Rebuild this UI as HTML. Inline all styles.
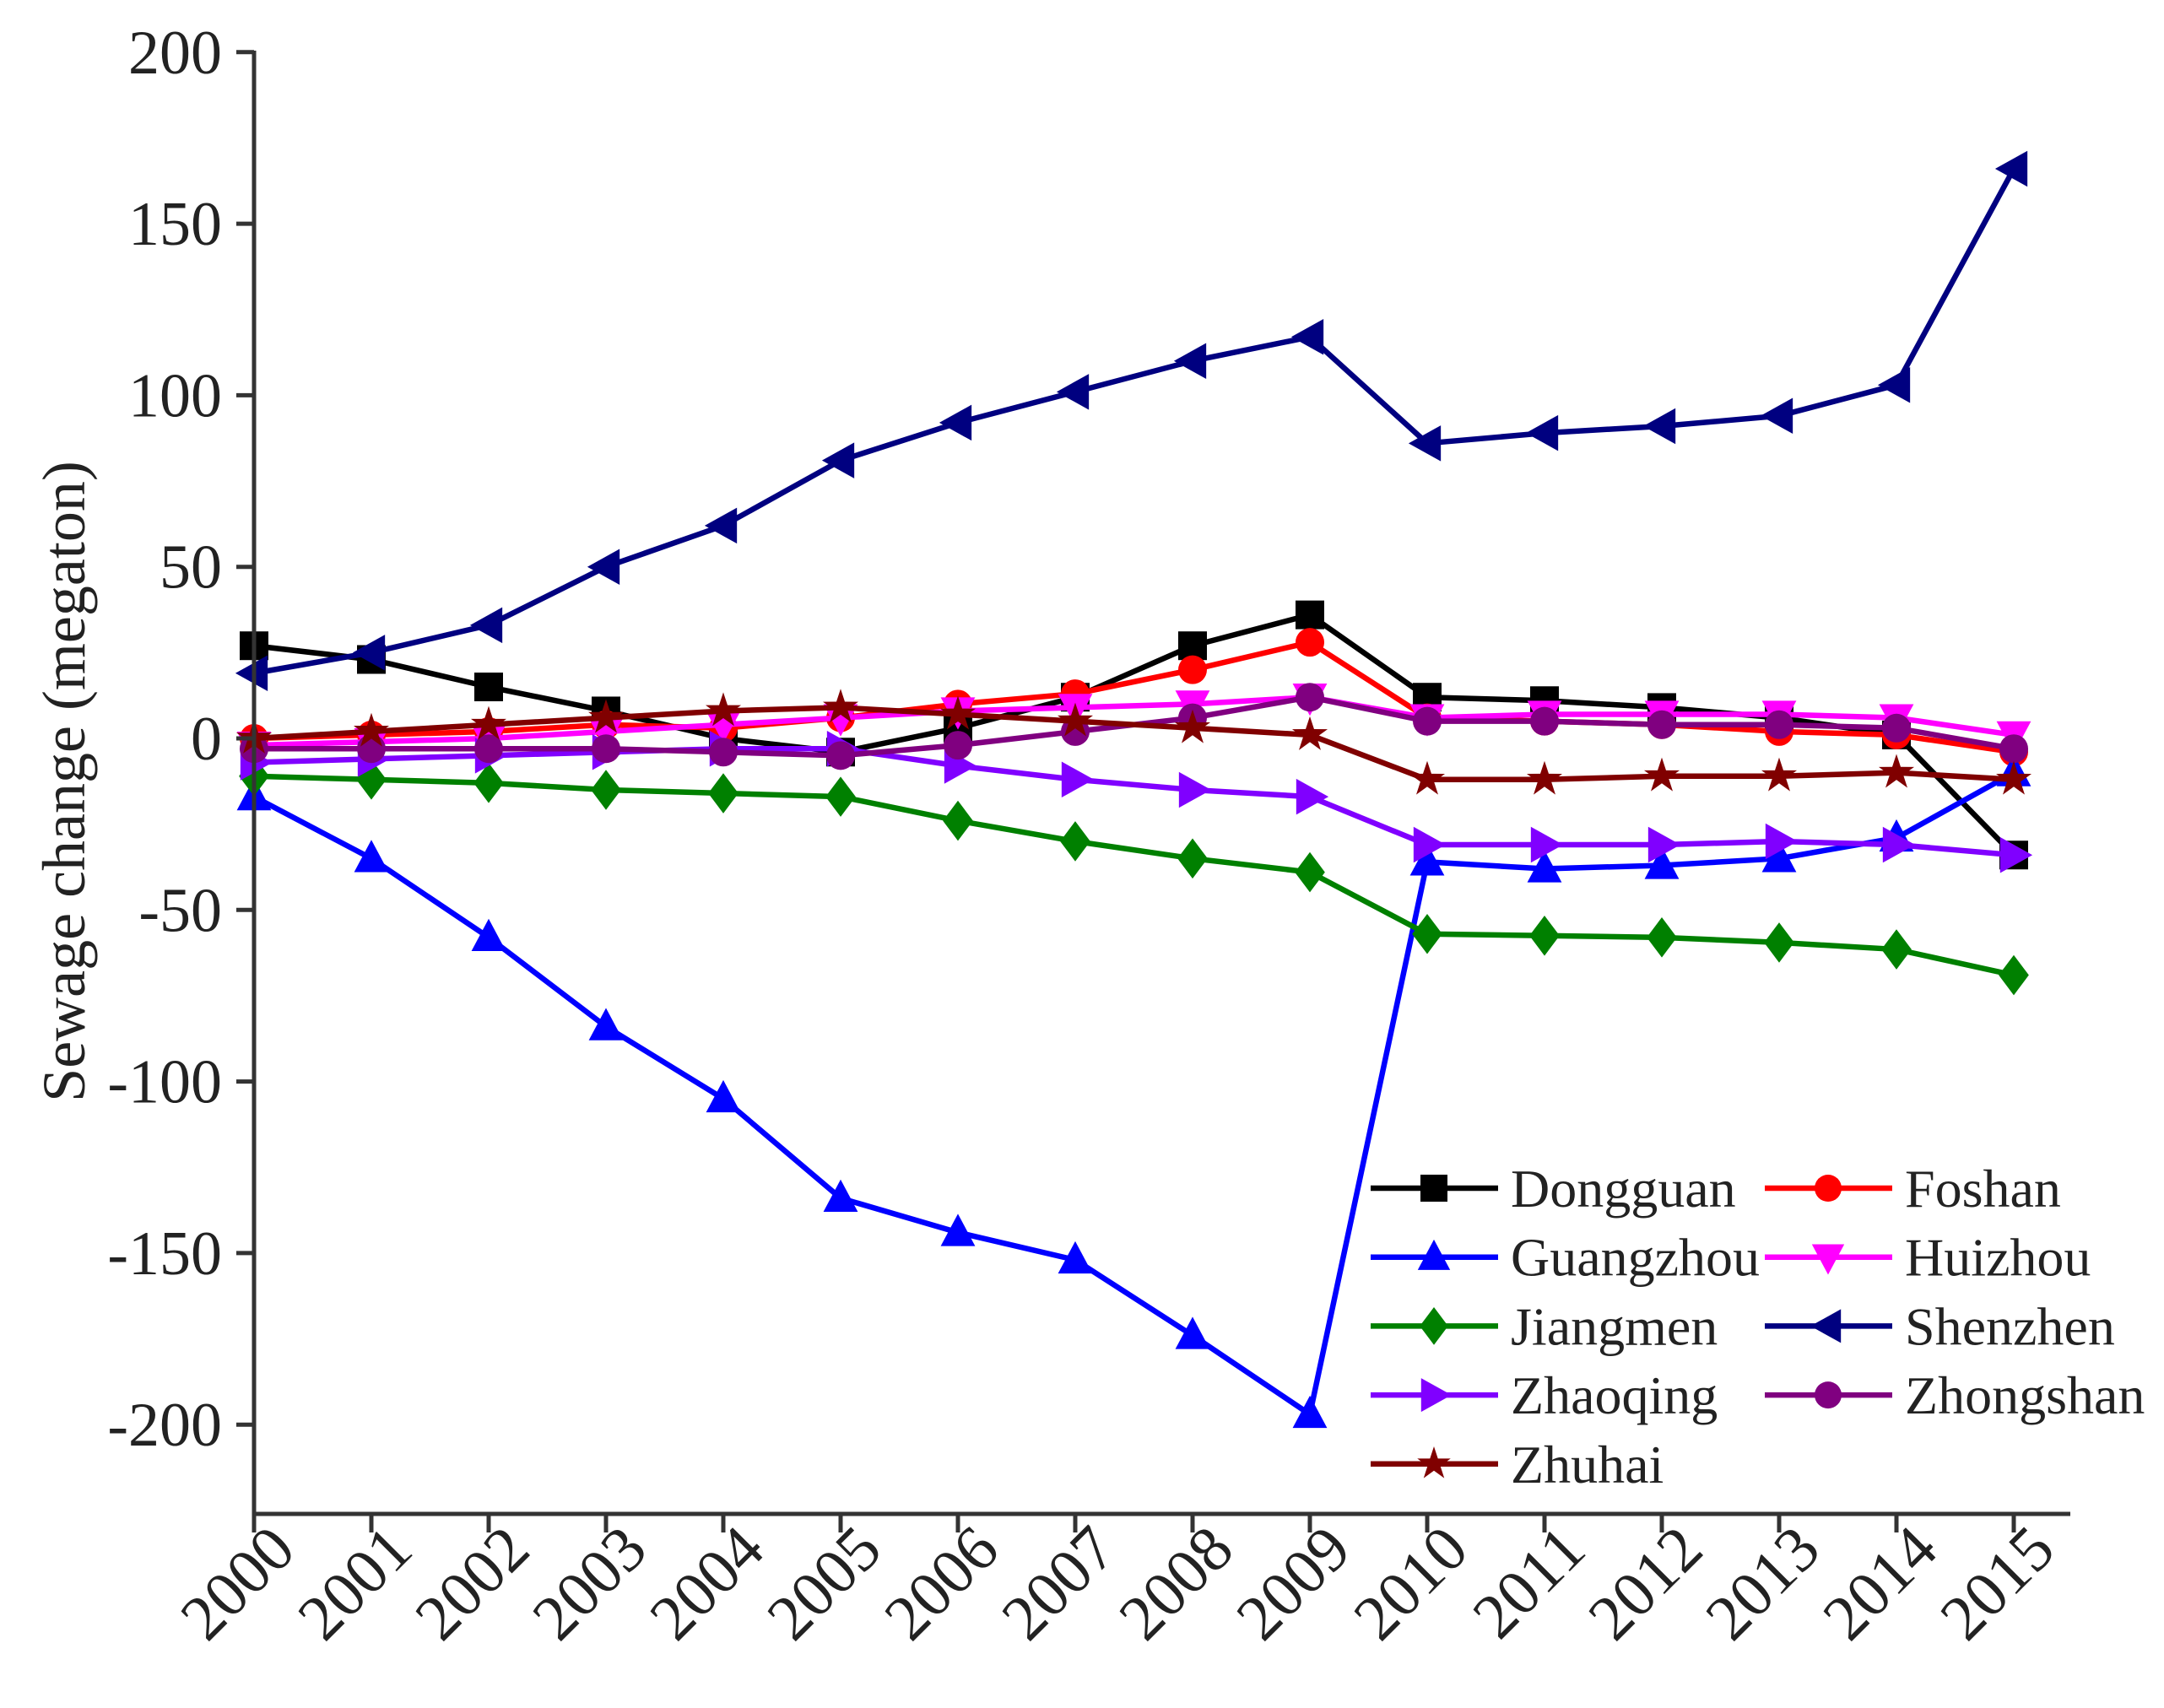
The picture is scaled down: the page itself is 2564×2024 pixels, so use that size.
<!DOCTYPE html>
<html><head><meta charset="utf-8">
<style>
html,body{margin:0;padding:0;background:#fff;}
svg{display:block;}
text{font-family:"Liberation Serif","Times New Roman",serif;fill:#222;}
</style></head>
<body>
<svg id="chart" width="2564" height="2024" viewBox="0 0 2564 2024" xmlns="http://www.w3.org/2000/svg">
<g id="grid"></g>
<g id="series"></g>
<g id="axes"></g>
<g id="legend"></g>
</svg>
<script>
const years = [2000,2001,2002,2003,2004,2005,2006,2007,2008,2009,2010,2011,2012,2013,2014,2015];
const yTicks = [200,150,100,50,0,-50,-100,-150,-200];
const cities = ["Dongguan","Foshan","Guangzhou","Huizhou","Jiangmen","Shenzhen","Zhaoqing","Zhongshan","Zhuhai"];
const dongguan = [27,23,15,8,0,-4,3,12,27,36,12,11,9,6,1,-34];
const foshan = [0,1,2,4,3,6,10,13,20,28,6,5,4,2,1,-4];
const guangzhou = [-17,-35,-58,-84,-105,-134,-144,-152,-174,-197,-36,-38,-37,-35,-29,-10];
const huizhou = [-2,-1,0,2,4,6,8,9,10,12,6,7,7,7,6,1];
const jiangmen = [-11,-12,-13,-15,-16,-17,-24,-30,-35,-39,-57,-57.5,-58,-59.5,-61.5,-69];
const shenzhen = [19,25,33,50,62,81,92,101,110,117,86,89,91,94,103,166];
const zhaoqing = [-7,-6,-5,-4,-3,-3,-8,-12,-15,-17,-31,-31,-31,-30,-31,-34];
const zhongshan = [-3,-3,-3,-3,-4,-5,-2,2,6,12,5,5,4,4,3,-3];
const zhuhai = [0,2,4,6,8,9,7,5,3,1,-12,-12,-11,-11,-10,-12];

const NS="http://www.w3.org/2000/svg";
const X0=301, XS=139, Y0=875, YPER=203.3/50;
function xPos(i){return X0+i*XS;}
function yPos(v){return Y0-v*YPER;}
function mk(tag,attrs,parent){const e=document.createElementNS(NS,tag);for(const k in attrs)e.setAttribute(k,attrs[k]);parent.appendChild(e);return e;}

const seriesDefs=[
 {name:"Dongguan",data:dongguan,color:"#000000",m:"square"},
 {name:"Foshan",data:foshan,color:"#ff0000",m:"circle"},
 {name:"Guangzhou",data:guangzhou,color:"#0000ff",m:"up"},
 {name:"Huizhou",data:huizhou,color:"#ff00ff",m:"down"},
 {name:"Jiangmen",data:jiangmen,color:"#008000",m:"diamond"},
 {name:"Shenzhen",data:shenzhen,color:"#000080",m:"left"},
 {name:"Zhaoqing",data:zhaoqing,color:"#8000ff",m:"right"},
 {name:"Zhongshan",data:zhongshan,color:"#800080",m:"circle"},
 {name:"Zhuhai",data:zhuhai,color:"#800000",m:"star"}
];
function marker(type,x,y,color,parent,s){
  s=s||17;let e;
  if(type==="square")e=mk("rect",{x:x-s,y:y-s,width:2*s,height:2*s,fill:color},parent);
  else if(type==="circle")e=mk("circle",{cx:x,cy:y,r:s,fill:color},parent);
  else{
    let p;
    if(type==="up")p=[[x,y-s*1.3],[x+s*1.2,y+s*0.95],[x-s*1.2,y+s*0.95]];
    else if(type==="down")p=[[x,y+s*1.3],[x+s*1.2,y-s*0.95],[x-s*1.2,y-s*0.95]];
    else if(type==="left")p=[[x-s*1.3,y],[x+s*0.95,y-s*1.25],[x+s*0.95,y+s*1.25]];
    else if(type==="right")p=[[x+s*1.3,y],[x-s*0.95,y-s*1.25],[x-s*0.95,y+s*1.25]];
    else if(type==="diamond")p=[[x,y-s*1.4],[x+s*1.05,y],[x,y+s*1.4],[x-s*1.05,y]];
    else {p=[];for(let k=0;k<10;k++){const r=k%2?s*0.5:s*1.3;const a=-Math.PI/2+k*Math.PI/5;p.push([x+r*Math.cos(a),y+r*Math.sin(a)]);}}
    e=mk("polygon",{points:p.map(q=>q.join(",")).join(" "),fill:color},parent);
  }
  return e;
}
const sg=document.getElementById("series");
seriesDefs.forEach(sd=>{
  const g=mk("g",{},sg);
  
  
  const pts=sd.data.map((v,i)=>xPos(i)+","+yPos(v)).join(" ");
  const pl=mk("polyline",{points:pts,fill:"none",stroke:sd.color,"stroke-width":6.5,"stroke-linejoin":"round"},g);
  
  
  sd.data.forEach((v,i)=>{
    const m=marker(sd.m,xPos(i),yPos(v),sd.color,g);
    
    
  });
});

const ag=document.getElementById("axes");
const yAxis=mk("line",{x1:X0,y1:60,x2:X0,y2:1796,stroke:"#333","stroke-width":5},ag);


const xAxis=mk("line",{x1:X0-2,y1:1794,x2:2453,y2:1794,stroke:"#333","stroke-width":5},ag);


yTicks.forEach(v=>{
  const y=yPos(v);
  const t=mk("line",{x1:X0-21,y1:y,x2:X0,y2:y,stroke:"#333","stroke-width":5},ag);
  
  
  const lb=mk("text",{x:X0-38,y:y+25,"text-anchor":"end","font-size":74},ag);
  lb.textContent=v;
  
  
});
years.forEach((yr,i)=>{
  const x=xPos(i);
  const t=mk("line",{x1:x,y1:1794,x2:x,y2:1816,stroke:"#333","stroke-width":5},ag);
  
  
  const lb=mk("text",{x:x+52,y:1840,"text-anchor":"end","font-size":76,transform:"rotate(-45 "+(x+52)+" 1840)"},ag);
  lb.textContent=yr;
  
  
});
const yt=mk("text",{x:0,y:0,"text-anchor":"middle","font-size":72,transform:"translate(100 926) rotate(-90)"},ag);
yt.textContent="Sewage change (megaton)";



const lg=document.getElementById("legend");


const legendOrder=["Dongguan","Foshan","Guangzhou","Huizhou","Jiangmen","Shenzhen","Zhaoqing","Zhongshan","Zhuhai"];
legendOrder.forEach((n,k)=>{
  const sd=seriesDefs.find(s=>s.name===n);
  const col=k%2, row=Math.floor(k/2);
  const lx=col?2091:1624, ly=1408+row*81.7;
  const g=mk("g",{},lg);
  
  
  mk("line",{x1:lx,y1:ly,x2:lx+151,y2:ly,stroke:sd.color,"stroke-width":6.5},g);
  marker(sd.m,lx+75,ly,sd.color,g,16);
  const t=mk("text",{x:lx+166,y:ly+22,"font-size":64},g);
  t.textContent=n;
});
</script>
</body></html>
